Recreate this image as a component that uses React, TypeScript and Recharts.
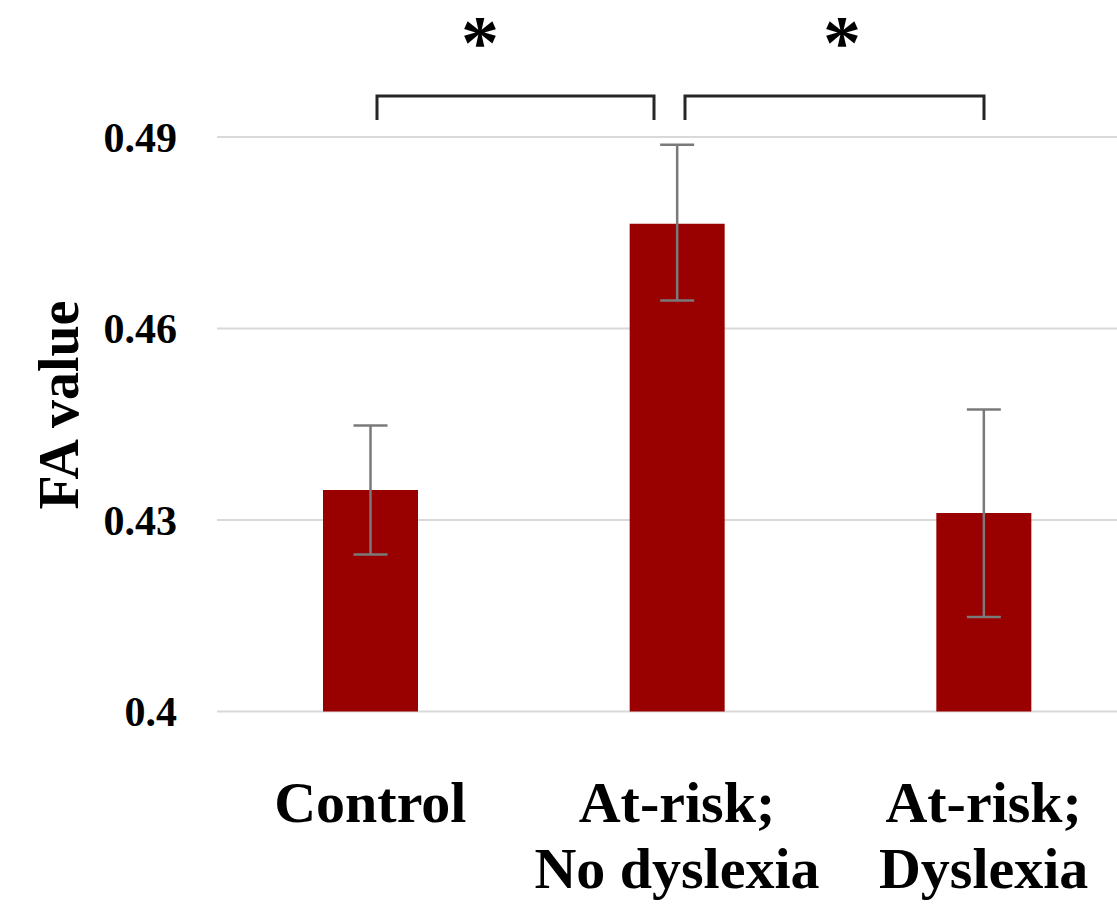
import React from 'react';
import { BarChart, Bar, XAxis, YAxis, CartesianGrid, ErrorBar, Customized } from 'recharts';

// group names (two lines each where the original wraps)
const groups = ['Control', 'At-risk; No dyslexia', 'At-risk; Dyslexia'];
const groupLines = [['Control'], ['At-risk;', 'No dyslexia'], ['At-risk;', 'Dyslexia']];
const faMeans = [0.4347, 0.4764, 0.4311];
const faErrLow = [0.0101, 0.0120, 0.0163];
const faErrHigh = [0.0101, 0.0124, 0.0162];
const yTicks = [0.4, 0.43, 0.46, 0.49];

const data = groups.map((name, i) => ({
  name,
  fa: faMeans[i],
  err: [faErrLow[i], faErrHigh[i]],
}));

const FONT = '"Liberation Serif", "Times New Roman", serif';

// significance brackets drawn above the plot
const brackets = [
  { x1: 377, x2: 654 },
  { x1: 685, x2: 984 },
];
const stars = [480, 842];

const GroupTick = ({ x, y, payload }: any) => {
  const lines = groupLines[payload.index] || [payload.value];
  return (
    <text x={x} y={y} textAnchor="middle" fontFamily={FONT} fontWeight="bold" fontSize={58} fill="#000">
      {lines.map((line, i) => (
        <tspan key={i} x={x} y={y + 110.5 + i * 66}>{line}</tspan>
      ))}
    </text>
  );
};

const YLabel = ({ viewBox }: any) => {
  const cx = viewBox.x + 78;
  const cy = 405;
  return (
    <text
      x={cx}
      y={cy}
      transform={`rotate(-90 ${cx} ${cy})`}
      textAnchor="middle"
      fontFamily={FONT}
      fontWeight="bold"
      fontSize={56}
      fill="#000"
    >
      FA value
    </text>
  );
};

const Significance = () => (
  <g>
    {brackets.map((b, i) => (
      <path
        key={`br-${i}`}
        d={`M${b.x1},120 L${b.x1},96 L${b.x2},96 L${b.x2},120`}
        fill="none"
        stroke="#262626"
        strokeWidth={3}
      />
    ))}
    {stars.map((sx, i) => (
      <text key={`st-${i}`} x={sx} y={68} textAnchor="middle" fontFamily={FONT} fontWeight="bold" fontSize={76} fill="#000">
        *
      </text>
    ))}
  </g>
);

export default function App() {
  return (
    <div style={{ position: 'absolute', left: 0, top: 0, width: 1117, height: 908, overflow: 'hidden', background: '#fff' }}>
      <BarChart
        width={1140}
        height={908}
        data={data}
        margin={{ top: 137, right: 3, bottom: 6.5, left: 0 }}
        barSize={95}
      >
        <CartesianGrid vertical={false} stroke="#d9d9d9" strokeWidth={2} />
        <XAxis
          dataKey="name"
          axisLine={false}
          tickLine={false}
          tickSize={0}
          tickMargin={0}
          height={190}
          interval={0}
          tick={<GroupTick />}
        />
        <YAxis
          domain={[0.4, 0.49]}
          ticks={yTicks}
          width={217}
          axisLine={false}
          tickLine={false}
          tickSize={0}
          tickMargin={40}
          tick={{ fill: '#000', fontSize: 42, fontWeight: 'bold', fontFamily: FONT }}
          tickFormatter={(v) => String(v)}
          label={<YLabel />}
        />
        <Bar dataKey="fa" fill="#990000" isAnimationActive={false}>
          <ErrorBar dataKey="err" width={17} stroke="#7a7a7a" strokeWidth={2.5} />
        </Bar>
        <Customized component={<Significance />} />
      </BarChart>
    </div>
  );
}
